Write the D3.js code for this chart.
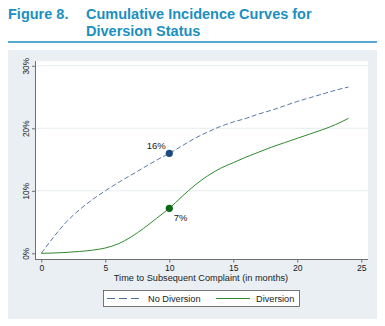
<!DOCTYPE html>
<html><head><meta charset="utf-8">
<script src="https://cdn.jsdelivr.net/npm/d3@7"></script>
<style>body{margin:0;background:#fff}svg{display:block}</style>
</head><body>
<script>
const months = [0,1,2,3,4,5,6,7,8,9,10,11,12,13,14,15,16,17,18,19,20,21,22,23,24];
const noDiversion = [0,2.7,5.1,7.0,8.6,10.0,11.3,12.5,13.7,14.9,16.0,17.2,18.4,19.4,20.3,21.0,21.6,22.3,22.9,23.6,24.3,24.9,25.5,26.1,26.6];
const diversion = [0,0.05,0.15,0.3,0.5,0.85,1.5,2.6,4.0,5.6,7.2,9.1,10.9,12.4,13.6,14.5,15.4,16.2,17.0,17.7,18.4,19.1,19.8,20.6,21.6];
const xTicks = [0,5,10,15,20,25];
const yTicks = [0,10,20,30];
const markerMonth = 10;
const markerLabels = ["16%","7%"];

const W=385,H=326;
const svg=d3.select("body").append("svg").attr("width",W).attr("height",H);
const teal="#1b8fbf";
const tf="'Liberation Sans',Arial,sans-serif";
const ts=14.5;
svg.append("text").attr("x",8).attr("y",19).attr("font-family",tf).attr("font-weight","bold").attr("font-size",ts).attr("fill",teal).text("Figure 8.");
svg.append("text").attr("x",86).attr("y",19).attr("font-family",tf).attr("font-weight","bold").attr("font-size",ts).attr("fill",teal).text("Cumulative Incidence Curves for");
svg.append("text").attr("x",86).attr("y",36).attr("font-family",tf).attr("font-weight","bold").attr("font-size",ts).attr("fill",teal).text("Diversion Status");
svg.append("line").attr("x1",8).attr("x2",377).attr("y1",42).attr("y2",42).attr("stroke",teal).attr("stroke-width",1.5);
// panel
svg.append("rect").attr("x",8).attr("y",50).attr("width",369).attr("height",269).attr("fill","#e9eff2");
svg.append("rect").attr("x",35).attr("y",61).attr("width",333).attr("height",198).attr("fill","#fff");

const x=d3.scaleLinear().domain([0,25]).range([41.3,361.3]);
const y=d3.scaleLinear().domain([0,30]).range([253.3,65.8]);

svg.append("g").selectAll("line").data(yTicks.slice(1)).join("line")
 .attr("x1",35).attr("x2",368).attr("y1",d=>y(d)).attr("y2",d=>y(d)).attr("stroke","#e6edf1").attr("stroke-width",1);

const af="'Liberation Sans',Arial,sans-serif";
const xa=svg.append("g").attr("transform","translate(0,259)")
 .call(d3.axisBottom(x).tickValues(xTicks).tickSize(3.5).tickPadding(2).tickFormat(d3.format("d")));
xa.select(".domain").attr("d","M35,0.5H368").attr("stroke","#707070");
xa.selectAll(".tick line").attr("stroke","#707070");
xa.selectAll("text").attr("font-family",af).attr("font-size",8.6).attr("fill","#222");

const ya=svg.append("g").attr("transform","translate(35,0)")
 .call(d3.axisLeft(y).tickValues(yTicks).tickSize(3).tickFormat(d=>d+"%"));
ya.select(".domain").attr("d","M0.5,61V259").attr("stroke","#707070");
ya.selectAll(".tick line").attr("stroke","#707070");
ya.selectAll("text").attr("font-family",af).attr("font-size",8.3).attr("fill","#222")
 .attr("x",0).attr("dy",0).attr("text-anchor","middle").attr("transform","translate(-6,0) rotate(-90)");

svg.append("text").attr("x",201).attr("y",281).attr("text-anchor","middle").attr("font-family",af).attr("font-size",9.2).attr("fill","#222").text("Time to Subsequent Complaint (in months)");

const line=d3.line().x((d,i)=>x(months[i])).y(d=>y(d)).curve(d3.curveMonotoneX);
svg.append("path").attr("d",line(noDiversion)).attr("fill","none").attr("stroke","#5a7aa6").attr("stroke-width",1).attr("stroke-dasharray","5,2.5");
svg.append("path").attr("d",line(diversion)).attr("fill","none").attr("stroke","#2f8a2f").attr("stroke-width",1);

const mi=months.indexOf(markerMonth);
svg.append("circle").attr("cx",x(markerMonth)).attr("cy",y(noDiversion[mi])).attr("r",3.6).attr("fill","#1c4a7e");
svg.append("circle").attr("cx",x(markerMonth)).attr("cy",y(diversion[mi])).attr("r",3.6).attr("fill","#0b6a12");
svg.append("text").attr("x",x(markerMonth)-3.5).attr("y",y(noDiversion[mi])-4.5).attr("text-anchor","end").attr("font-family",af).attr("font-size",9.5).attr("fill","#222").text(markerLabels[0]);
svg.append("text").attr("x",x(markerMonth)+4.5).attr("y",y(diversion[mi])+12.5).attr("font-family",af).attr("font-size",9.5).attr("fill","#222").text(markerLabels[1]);

// legend
svg.append("rect").attr("x",103.5).attr("y",290.5).attr("width",196).attr("height",16).attr("fill","#fff").attr("stroke","#555").attr("stroke-width",0.8);
svg.append("line").attr("x1",107).attr("x2",141).attr("y1",298.5).attr("y2",298.5).attr("stroke","#4a6e9e").attr("stroke-dasharray","8,4");
svg.append("text").attr("x",148).attr("y",301.8).attr("font-family",af).attr("font-size",9.2).attr("fill","#222").text("No Diversion");
svg.append("line").attr("x1",216).attr("x2",250).attr("y1",298.5).attr("y2",298.5).attr("stroke","#2f8a2f");
svg.append("text").attr("x",256).attr("y",301.8).attr("font-family",af).attr("font-size",9.2).attr("fill","#222").text("Diversion");
</script>
</body></html>
